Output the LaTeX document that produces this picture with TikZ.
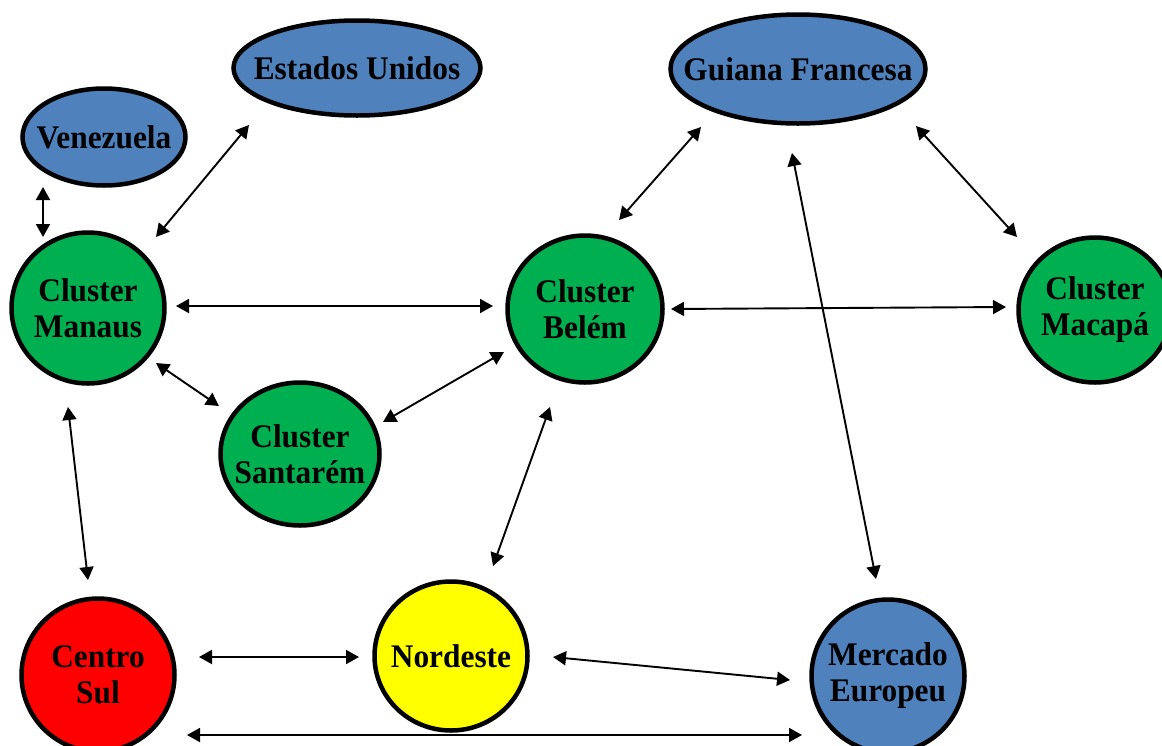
\documentclass[tikz,border=0pt]{standalone}
\usepackage{fontspec}
\setmainfont{Liberation Serif}[FakeStretch=0.95]
\usetikzlibrary{shapes.geometric,arrows.meta,calc}
\definecolor{cblue}{HTML}{4F81BD}
\definecolor{cgreen}{HTML}{00B050}
\definecolor{cred}{HTML}{FF0000}
\definecolor{cyellow}{HTML}{FFFF00}
\newcommand{\nbx}[1]{\makebox[0pt]{#1}}
\tikzset{
  nd/.style={ellipse, draw=black, line width=4.5pt, inner sep=0pt, align=center,
    font=\fontsize{33}{36}\selectfont\bfseries},
  bluend/.style={nd, fill=cblue},
  greennd/.style={nd, fill=cgreen},
  arr/.style={line width=1.9pt, {Triangle[length=13pt,width=14pt]}-{Triangle[length=13pt,width=14pt]}}
}
\begin{document}
\begin{tikzpicture}[x=1pt,y=-1pt]
\useasboundingbox (0,0) rectangle (1162,745);
\clip (0,0) rectangle (1162,745);
% nodes
\node[bluend, minimum width=163pt, minimum height=97pt] (ven) at (104,137) {\nbx{Venezuela}};
\node[bluend, minimum width=247pt, minimum height=95pt] (eu) at (357,68) {\nbx{Estados Unidos}};
\node[bluend, minimum width=255pt, minimum height=109pt] (gf) at (798,69) {\nbx{Guiana Francesa}};
\node[greennd, minimum width=153pt, minimum height=151pt] (man) at (88,308) {\nbx{Cluster}\\\nbx{Manaus}};
\node[greennd, minimum width=155pt, minimum height=147pt] (bel) at (585,309) {\nbx{Cluster}\\\nbx{Belém}};
\node[greennd, minimum width=153pt, minimum height=145pt] (mac) at (1095,310) {\nbx{Cluster}\\\nbx{Macapá}};
\node[greennd, minimum width=159pt, minimum height=143pt] (san) at (300,454) {\nbx{Cluster}\\\nbx{Santarém}};
\node[nd, fill=cred, minimum width=153pt, minimum height=153pt] (cs) at (98,675) {\nbx{Centro}\\\nbx{Sul}};
\node[nd, fill=cyellow, minimum width=153pt, minimum height=149pt] (nor) at (451,656) {\nbx{Nordeste}};
\node[bluend, minimum width=153pt, minimum height=153pt] (me) at (888,676) {\nbx{Mercado}\\\nbx{Europeu}};
% connectors
\draw[arr] ($(ven)+(-61,50)$) -- ($(man)+(-45,-71)$);
\draw[arr] ($(man)+(68,-71)$) -- ($(eu)+(-108,57)$);
\draw[arr] ($(man)+(88,-2)$) -- ($(bel)+(-92,-3)$);
\draw[arr] ($(man)+(68,55)$) -- ($(san)+(-81,-48)$);
\draw[arr] ($(san)+(83,-32)$) -- ($(bel)+(-81,43)$);
\draw[arr] ($(man)+(-20,99)$) -- ($(cs)+(-10,-95)$);
\draw[arr] ($(bel)+(34,-89)$) -- ($(gf)+(-97,58)$);
\draw[arr] ($(gf)+(118,57)$) -- ($(mac)+(-78,-73)$);
\draw[arr] ($(bel)+(86,0)$) -- ($(mac)+(-89,-3)$);
\draw[arr] ($(bel)+(-35,98)$) -- ($(nor)+(42,-90)$);
\draw[arr] ($(gf)+(-6,84)$) -- ($(me)+(-12,-97)$);
\draw[arr] ($(cs)+(101,-18)$) -- ($(nor)+(-92,1)$);
\draw[arr] ($(nor)+(102,1)$) -- ($(me)+(-98,4)$);
\draw[arr] ($(cs)+(89,60)$) -- ($(me)+(-86,59)$);
\end{tikzpicture}
\end{document}
